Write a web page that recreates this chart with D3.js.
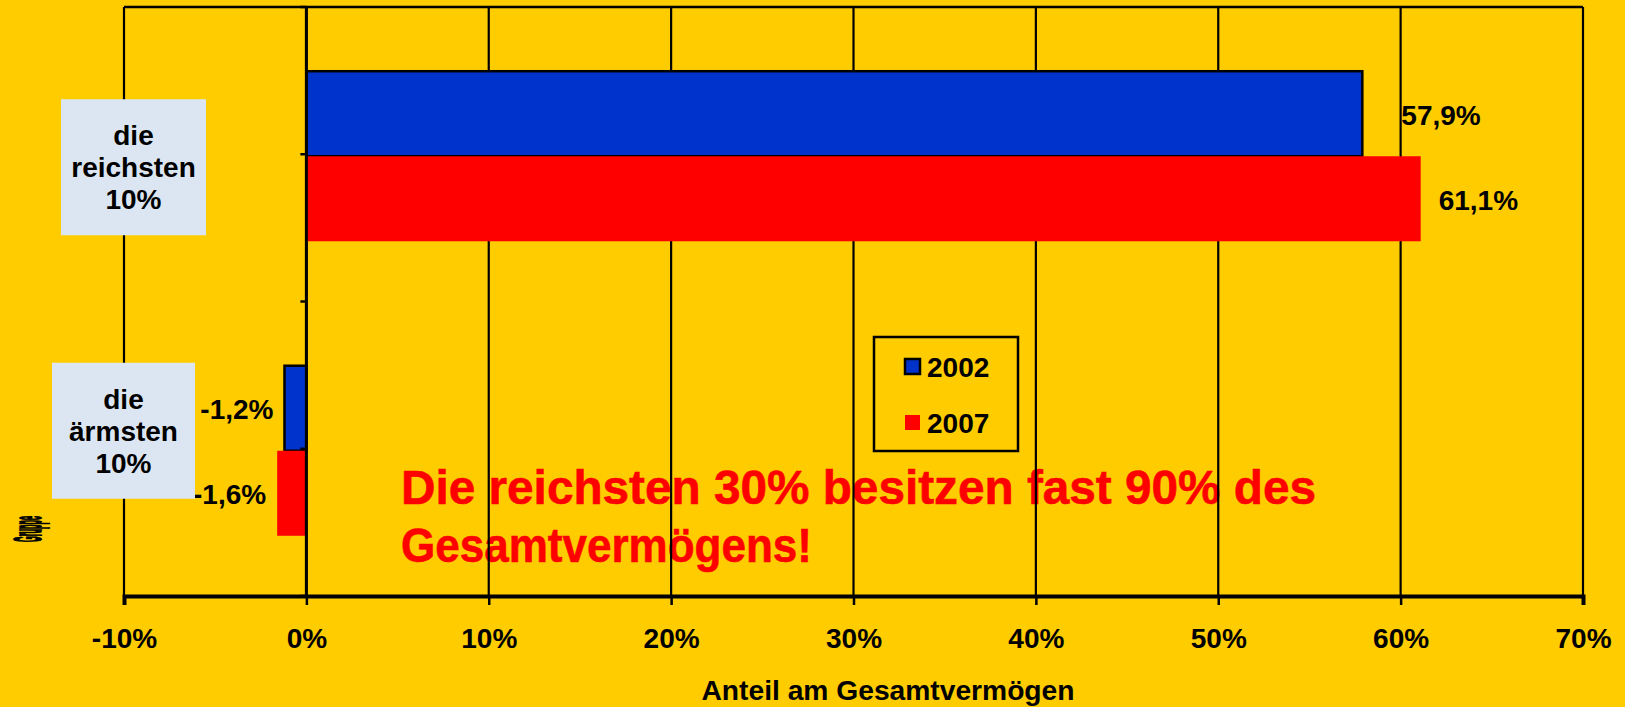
<!DOCTYPE html>
<html>
<head>
<meta charset="utf-8">
<script src="https://cdn.jsdelivr.net/npm/d3@7/dist/d3.min.js"></script>
<style>
  html, body { margin: 0; padding: 0; background: #FFCC00; }
  svg { display: block; }
  text { font-family: "Liberation Sans", Arial, sans-serif; font-weight: bold; }
</style>
</head>
<body>
<svg id="chart" width="1625" height="707"></svg>
<script>
// ---- data ----
const categories = ["die reichsten 10%", "die ärmsten 10%"];
const categoryLines = [["die", "reichsten", "10%"], ["die", "ärmsten", "10%"]];
const series = ["2002", "2007"];
const values2002 = [57.9, -1.2];
const values2007 = [61.1, -1.6];
const xTicks = [-10, 0, 10, 20, 30, 40, 50, 60, 70];
const xTitle = "Anteil am Gesamtvermögen";
const note = ["Die reichsten 30% besitzen fast 90% des", "Gesamtvermögens!"];

// ---- style ----
const W = 1625, H = 707;
const plot = { left: 124, right: 1583, top: 7, bottom: 596 };
const colors = { "2002": "#0033CC", "2007": "#FF0000" };
const labelGap = { "2002": 39, "2007": 18 };
const boxFill = "#DCE6F2";

const svg = d3.select("#chart");
svg.append("rect").attr("width", W).attr("height", H).attr("fill", "#FFCC00");

const x = d3.scaleLinear().domain([-10, 70]).range([plot.left, plot.right]);
const y = d3.scaleBand().domain(categories).range([plot.top + 2, plot.bottom + 2]).padding(0);
const ySub = d3.scaleBand().domain(series).range([0, y.bandwidth()]).paddingInner(0).paddingOuter(0.732);

const rows = categories.map((c, i) => ({
  cat: c,
  lines: categoryLines[i],
  vals: [{ s: "2002", v: values2002[i] }, { s: "2007", v: values2007[i] }]
}));

// note text (behind gridlines)
const noteG = svg.append("g");
noteG.selectAll("text").data(note).join("text")
  .attr("x", 401)
  .attr("y", (d, i) => 504 + i * 58)
  .attr("fill", "#FF0000")
  .attr("font-size", 48)
  .attr("stroke", "#FF0000").attr("stroke-width", 0.6)
  .attr("textLength", (d, i) => i === 0 ? 915 : 411)
  .attr("lengthAdjust", "spacingAndGlyphs")
  .text(d => d);

// gridlines
svg.append("g").selectAll("line").data(xTicks).join("line")
  .attr("x1", d => x(d)).attr("x2", d => x(d))
  .attr("y1", plot.top).attr("y2", plot.bottom)
  .attr("stroke", "#000").attr("stroke-width", 2.2);
// top border
svg.append("line")
  .attr("x1", plot.left).attr("x2", plot.right)
  .attr("y1", plot.top).attr("y2", plot.top)
  .attr("stroke", "#000").attr("stroke-width", 2.5);

// bars
const barG = svg.append("g");
rows.forEach(r => {
  barG.selectAll(null).data(r.vals).join("rect")
    .attr("x", d => x(Math.min(0, d.v)))
    .attr("width", d => Math.abs(x(d.v) - x(0)))
    .attr("y", d => y(r.cat) + ySub(d.s))
    .attr("height", ySub.bandwidth())
    .attr("fill", d => colors[d.s])
    .attr("stroke", d => d.s === "2002" ? "#000" : "none")
    .attr("stroke-width", 2.5);
});

// y axis (0 line)
const yAxisScale = d3.scaleLinear().domain([0, 4]).range([plot.top, plot.bottom]);
svg.append("line")
  .attr("x1", x(0)).attr("x2", x(0))
  .attr("y1", plot.top).attr("y2", plot.bottom)
  .attr("stroke", "#000").attr("stroke-width", 3);
svg.append("g").selectAll("line").data([0, 1, 2, 3, 4]).join("line")
  .attr("x1", x(0) - 6).attr("x2", x(0))
  .attr("y1", d => yAxisScale(d)).attr("y2", d => yAxisScale(d))
  .attr("stroke", "#000").attr("stroke-width", 2.5);

// x axis
const xAxis = d3.axisBottom(x).tickValues(xTicks).tickSize(9).tickPadding(20)
  .tickFormat(d => d + "%");
const gx = svg.append("g").attr("transform", `translate(0,${plot.bottom})`).call(xAxis);
gx.select(".domain").attr("stroke", "#000").attr("stroke-width", 4);
gx.selectAll(".tick line").attr("stroke", "#000").attr("stroke-width", 2.5);
gx.selectAll(".tick text")
  .attr("font-size", 28).attr("font-family", "Liberation Sans, Arial, sans-serif")
  .attr("font-weight", "bold").attr("fill", "#000").attr("dy", "0.71em").attr("y", 32);

// x title
svg.append("text")
  .attr("x", 888).attr("y", 700)
  .attr("text-anchor", "middle")
  .attr("font-size", 27)
  .attr("textLength", 373).attr("lengthAdjust", "spacingAndGlyphs")
  .attr("fill", "#000")
  .text(xTitle);

// value labels
const fmt = v => d3.format(".1f")(v).replace(".", ",").replace("−", "-") + "%";
const labG = svg.append("g");
rows.forEach(r => {
  labG.selectAll(null).data(r.vals).join("text")
    .attr("x", d => d.v >= 0 ? x(d.v) + labelGap[d.s] : x(d.v) - 11)
    .attr("y", d => y(r.cat) + ySub(d.s) + ySub.bandwidth() / 2 + 11)
    .attr("text-anchor", d => d.v >= 0 ? "start" : "end")
    .attr("font-size", 28).attr("fill", "#000")
    .text(d => fmt(d.v));
});

// category label boxes
const boxLayout = [
  { x0: 61, x1: 206, dy: 13 },
  { x0: 52, x1: 195, dy: -18 }
];
rows.forEach((r, i) => {
  const b = boxLayout[i];
  const cy = y(r.cat) + y.bandwidth() / 2 - 2 + b.dy;
  const g = svg.append("g");
  g.append("rect")
    .attr("x", b.x0).attr("y", cy - 68)
    .attr("width", b.x1 - b.x0).attr("height", 136)
    .attr("fill", boxFill);
  g.selectAll("text").data(r.lines).join("text")
    .attr("x", (b.x0 + b.x1) / 2)
    .attr("y", (d, k) => cy - 22 + k * 32)
    .attr("text-anchor", "middle")
    .attr("font-size", 28).attr("fill", "#000")
    .text(d => d);
});

// legend
const lg = svg.append("g");
lg.append("rect").attr("x", 874).attr("y", 337).attr("width", 144).attr("height", 114)
  .attr("fill", "none").attr("stroke", "#000").attr("stroke-width", 2.5);
series.forEach((s, i) => {
  lg.append("rect")
    .attr("x", 905).attr("y", 359 + i * 56)
    .attr("width", 15).attr("height", 15)
    .attr("fill", colors[s])
    .attr("stroke", s === "2002" ? "#000" : "none").attr("stroke-width", 2.5);
  lg.append("text")
    .attr("x", 927).attr("y", 377 + i * 56)
    .attr("font-size", 28).attr("fill", "#000")
    .text(s);
});

// squashed rotated y-axis title artifact
svg.append("text")
  .attr("transform", "translate(41,529) rotate(-90)")
  .attr("text-anchor", "middle")
  .attr("font-size", 38).attr("fill", "#000")
  .attr("stroke", "#000").attr("stroke-width", 2)
  .attr("textLength", 26).attr("lengthAdjust", "spacingAndGlyphs")
  .text("Gruppe");
</script>
</body>
</html>
